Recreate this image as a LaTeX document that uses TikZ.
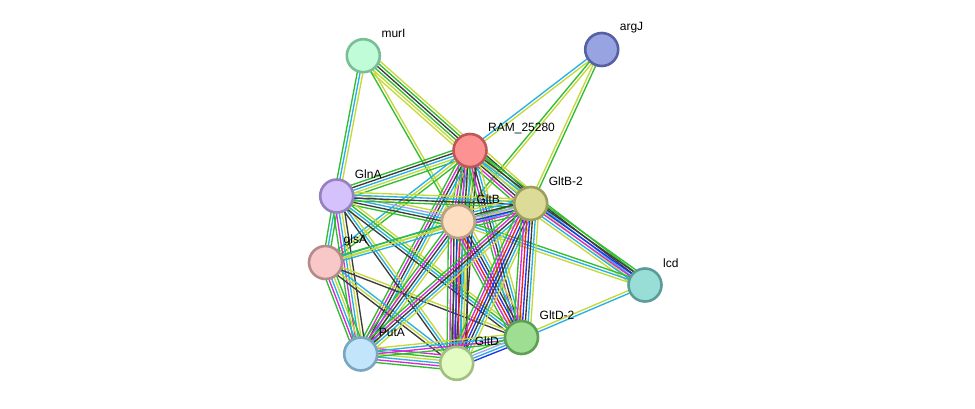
\documentclass[tikz,border=0pt]{standalone}
\usepackage{fontspec}
\setmainfont{Liberation Sans}
\usetikzlibrary{calc,backgrounds}
\definecolor{tmC}{RGB}{199,216,58}
\definecolor{dbC}{RGB}{38,178,228}
\definecolor{exC}{RGB}{214,44,214}
\definecolor{nbC}{RGB}{48,190,48}
\definecolor{fuC}{RGB}{238,32,32}
\definecolor{coC}{RGB}{32,52,238}
\definecolor{xpC}{RGB}{60,60,60}
\definecolor{hoC}{RGB}{165,165,240}
\tikzset{
  prot/.style={circle, minimum size=33pt, inner sep=0pt, line width=2.6pt},
  lbl/.style={anchor=west, inner sep=0pt, font=\fontsize{12}{14}\selectfont, text=black},
  eline/.style={line width=1.35pt},
}
\newcommand\edgeset[4]{%
  \foreach \col [count=\i] in {#4} {
    \pgfmathsetmacro\off{(\i-(#3+1)/2)*2.8}
    \draw[eline, \col] ($(#1)!\off pt!90:(#2)$) -- ($(#2)!\off pt!-90:(#1)$);
  }%
}
\begin{document}
\begin{tikzpicture}[x=1pt,y=-1pt]
\useasboundingbox (0,0) rectangle (975,409);
% nodes
\node[prot, fill={rgb,255:red,193;green,252;blue,216}, draw={rgb,255:red,122;green,190;blue,152}] (murI) at (363.3,55.7) {};
\node[prot, fill={rgb,255:red,152;green,163;blue,225}, draw={rgb,255:red,86;green,96;blue,165}] (argJ) at (601.7,49.5) {};
\node[prot, fill={rgb,255:red,253;green,146;blue,146}, draw={rgb,255:red,190;green,88;blue,88}] (RAM) at (470,150.5) {};
\node[prot, fill={rgb,255:red,213;green,194;blue,252}, draw={rgb,255:red,150;green,128;blue,192}] (GlnA) at (336.7,196) {};
\node[prot, fill={rgb,255:red,220;green,220;blue,152}, draw={rgb,255:red,157;green,157;blue,93}] (GltB2) at (530.7,203.5) {};
\node[prot, fill={rgb,255:red,253;green,222;blue,192}, draw={rgb,255:red,188;green,160;blue,132}] (GltB) at (458.3,221.5) {};
\node[prot, fill={rgb,255:red,248;green,200;blue,200}, draw={rgb,255:red,180;green,138;blue,138}] (glsA) at (325.5,262.5) {};
\node[prot, fill={rgb,255:red,152;green,221;blue,214}, draw={rgb,255:red,92;green,156;blue,152}] (lcd) at (645,285) {};
\node[prot, fill={rgb,255:red,158;green,222;blue,146}, draw={rgb,255:red,95;green,159;blue,85}] (GltD2) at (521.5,337.5) {};
\node[prot, fill={rgb,255:red,194;green,229;blue,252}, draw={rgb,255:red,123;green,166;blue,191}] (PutA) at (360.7,354) {};
\node[prot, fill={rgb,255:red,226;green,252;blue,196}, draw={rgb,255:red,162;green,191;blue,128}] (GltD) at (456.7,363.3) {};
% labels
\node[lbl] (murI-l) at ($(murI)+(18,-22)$) {murI};
\node[lbl] (argJ-l) at ($(argJ)+(18,-22)$) {argJ};
\node[lbl] (RAM-l) at ($(RAM)+(18,-22)$) {RAM\_25280};
\node[lbl] (GlnA-l) at ($(GlnA)+(18,-22)$) {GlnA};
\node[lbl] (GltB2-l) at ($(GltB2)+(18,-22)$) {GltB-2};
\node[lbl] (GltB-l) at ($(GltB)+(18,-22)$) {GltB};
\node[lbl] (glsA-l) at ($(glsA)+(18,-22)$) {glsA};
\node[lbl] (lcd-l) at ($(lcd)+(18,-22)$) {lcd};
\node[lbl] (GltD2-l) at ($(GltD2)+(18,-22)$) {GltD-2};
\node[lbl] (PutA-l) at ($(PutA)+(18,-22)$) {PutA};
\node[lbl] (GltD-l) at ($(GltD)+(18,-22)$) {GltD};
% edges
\begin{pgfonlayer}{background}
\edgeset{murI}{RAM}{6}{tmC,tmC,nbC,xpC,nbC,tmC}
\edgeset{murI}{GlnA}{3}{nbC,dbC,tmC}
\edgeset{murI}{GltB}{2}{nbC,tmC}
\edgeset{argJ}{RAM}{2}{dbC,tmC}
\edgeset{argJ}{GltB}{2}{nbC,tmC}
\edgeset{argJ}{GltB2}{2}{tmC,nbC}
\edgeset{RAM}{GlnA}{5}{nbC,xpC,dbC,tmC,nbC}
\edgeset{RAM}{GltB}{7}{nbC,exC,xpC,dbC,tmC,nbC,xpC}
\edgeset{RAM}{GltB2}{8}{nbC,exC,xpC,dbC,tmC,nbC,xpC,tmC}
\edgeset{RAM}{glsA}{3}{dbC,tmC,nbC}
\edgeset{RAM}{PutA}{5}{nbC,exC,xpC,dbC,tmC}
\edgeset{RAM}{GltD}{6}{nbC,exC,xpC,dbC,tmC,xpC}
\edgeset{RAM}{GltD2}{5}{nbC,exC,xpC,dbC,tmC}
\edgeset{RAM}{lcd}{4}{tmC,dbC,xpC,nbC}
\edgeset{GltB2}{lcd}{6}{tmC,dbC,exC,coC,xpC,nbC}
\edgeset{GltB}{lcd}{3}{tmC,dbC,nbC}
\edgeset{lcd}{GltD2}{2}{tmC,dbC}
\edgeset{GlnA}{GltB}{5}{nbC,xpC,dbC,hoC,tmC}
\edgeset{GlnA}{GltB2}{4}{nbC,xpC,dbC,tmC}
\edgeset{GlnA}{glsA}{3}{nbC,dbC,nbC}
\edgeset{GlnA}{PutA}{5}{nbC,exC,dbC,tmC,xpC}
\edgeset{GlnA}{GltD}{3}{xpC,dbC,tmC}
\edgeset{GlnA}{GltD2}{4}{xpC,dbC,nbC,tmC}
\edgeset{glsA}{GltB}{2}{tmC,dbC}
\edgeset{glsA}{GltB2}{3}{dbC,tmC,nbC}
\edgeset{glsA}{PutA}{5}{nbC,exC,dbC,tmC,nbC}
\edgeset{glsA}{GltD}{3}{xpC,tmC,dbC}
\edgeset{glsA}{GltD2}{2}{xpC,tmC}
\edgeset{GltB}{GltB2}{7}{nbC,exC,coC,hoC,xpC,dbC,tmC}
\edgeset{GltB}{PutA}{5}{nbC,exC,xpC,dbC,tmC}
\edgeset{GltB}{GltD}{8}{nbC,exC,xpC,coC,fuC,dbC,tmC,xpC}
\edgeset{GltB}{GltD2}{7}{nbC,exC,fuC,coC,xpC,dbC,tmC}
\edgeset{GltB2}{PutA}{5}{nbC,exC,xpC,dbC,tmC}
\edgeset{GltB2}{GltD}{7}{nbC,exC,fuC,coC,xpC,dbC,tmC}
\edgeset{GltB2}{GltD2}{7}{nbC,exC,fuC,coC,xpC,dbC,tmC}
\edgeset{PutA}{GltD}{6}{nbC,exC,dbC,tmC,nbC,exC}
\edgeset{PutA}{GltD2}{4}{nbC,exC,dbC,tmC}
\edgeset{GltD}{GltD2}{4}{coC,dbC,hoC,nbC}
\end{pgfonlayer}
\end{tikzpicture}
\end{document}
